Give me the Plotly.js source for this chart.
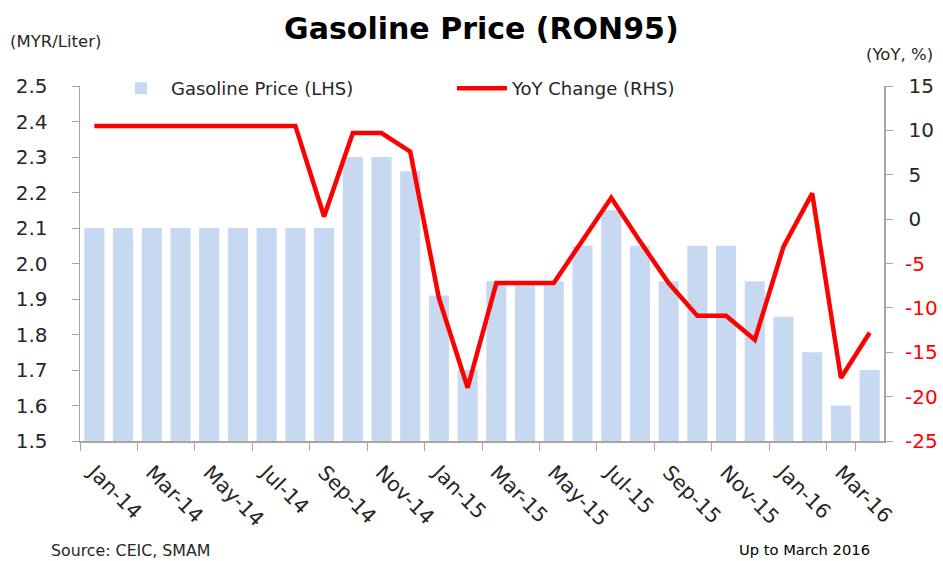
<!DOCTYPE html>
<html>
<head>
<meta charset="utf-8">
<script src="https://cdn.plot.ly/plotly-3.0.1.min.js"></script>
<style>html,body{margin:0;padding:0;background:#fff;}#chart{width:943px;height:561px;}</style>
</head>
<body>
<div id="chart"></div>
<script>
const months = ['Jan-14','Feb-14','Mar-14','Apr-14','May-14','Jun-14','Jul-14','Aug-14','Sep-14','Oct-14','Nov-14','Dec-14',
  'Jan-15','Feb-15','Mar-15','Apr-15','May-15','Jun-15','Jul-15','Aug-15','Sep-15','Oct-15','Nov-15','Dec-15',
  'Jan-16','Feb-16','Mar-16','Apr-16'];
const gasolinePrice = [2.10,2.10,2.10,2.10,2.10,2.10,2.10,2.10,2.10,2.30,2.30,2.26,
  1.91,1.70,1.95,1.95,1.95,2.05,2.15,2.05,1.95,2.05,2.05,1.95,
  1.85,1.75,1.60,1.70];
const yoyChange = [10.5,10.5,10.5,10.5,10.5,10.5,10.5,10.5,0.3,9.7,9.7,7.6,
  -8.9,-19.0,-7.2,-7.2,-7.2,-2.4,2.4,-2.5,-7.2,-10.9,-10.9,-13.6,
  -3.1,2.9,-17.9,-12.8];
const xTickLabels = ['Jan-14','Mar-14','May-14','Jul-14','Sep-14','Nov-14','Jan-15','Mar-15','May-15','Jul-15','Sep-15','Nov-15','Jan-16','Mar-16'];
const leftTickVals = [1.5,1.6,1.7,1.8,1.9,2.0,2.1,2.2,2.3,2.4,2.5];
const rightTickVals = [-25,-20,-15,-10,-5,0,5,10,15];
const rightTickText = ['-25','-20','-15','-10','-5','0','5','10','15'];

const FONT = 'DejaVu Sans, Verdana, sans-serif';
const AXC = '#a6a6a6';
const TXT = '#262626';
const NEG = '#ff0000';

const traces = [
  {
    type: 'bar', name: 'Gasoline Price (LHS)', x: months, y: gasolinePrice,
    marker: {color: '#c6d9f1'}, yaxis: 'y'
  },
  {
    type: 'scatter', mode: 'lines', name: 'YoY Change (RHS)', x: months, y: yoyChange,
    line: {color: '#ff0000', width: 4.5}, yaxis: 'y2'
  }
];

// Right-axis labels: non-negative ones are axis tick labels (black); negative ones are
// placed as red text at the same tick values through the y2 scale.
const rightAxisText = rightTickText.map((t, i) => rightTickVals[i] < 0 ? '' : t);
const negLabelAnnotations = rightTickVals
  .map((v, i) => ({v: v, t: rightTickText[i]}))
  .filter(d => d.v < 0)
  .map(d => ({
    text: d.t, xref: 'paper', yref: 'y2', x: 1.0242, y: d.v, xanchor: 'left', yanchor: 'middle',
    showarrow: false, font: {family: FONT, size: 20, color: NEG}
  }));

const layout = {
  width: 943, height: 561,
  margin: {l: 80, r: 58.5, t: 86.3, b: 120.3},
  paper_bgcolor: '#ffffff', plot_bgcolor: '#ffffff',
  font: {family: FONT, color: TXT, size: 16},
  bargap: 0.3,
  showlegend: true,
  title: {text: '<b>Gasoline Price (RON95)</b>', font: {family: FONT, size: 30, color: '#000000'},
          x: 0.5105, xanchor: 'center', y: 0.95, yanchor: 'middle', yref: 'container'},
  legend: {orientation: 'h', x: 0.0385, y: 1.045, xanchor: 'left', yanchor: 'top',
           font: {family: FONT, size: 18, color: TXT}, bgcolor: 'rgba(0,0,0,0)',
           itemwidth: 50, entrywidth: 276, entrywidthmode: 'pixels', traceorder: 'normal'},
  xaxis: {
    type: 'category', range: [-0.5, 27.5],
    tickmode: 'array', tickvals: xTickLabels, ticktext: xTickLabels,
    tickson: 'boundaries', ticks: 'outside', ticklen: 8, tickcolor: AXC, tickwidth: 1,
    tickangle: 45, tickfont: {family: FONT, size: 20.5, color: TXT}, ticklabelstandoff: 10,
    showline: true, linecolor: AXC, linewidth: 1.5, showgrid: false, zeroline: false
  },
  yaxis: {
    range: [1.5, 2.5], tickmode: 'array', tickvals: leftTickVals, tickformat: '.1f',
    ticks: 'outside', ticklen: 7, tickcolor: AXC, showline: true, linecolor: AXC, linewidth: 1.5,
    showgrid: false, zeroline: false, tickfont: {family: FONT, size: 20, color: TXT},
    ticklabelstandoff: 20
  },
  yaxis2: {
    overlaying: 'y', side: 'right', anchor: 'x', range: [-25, 15], tickmode: 'array',
    tickvals: rightTickVals, ticktext: rightAxisText,
    ticks: 'outside', ticklen: 7, tickcolor: AXC, showline: true, linecolor: AXC, linewidth: 1.5,
    showgrid: false, zeroline: false, ticklabelstandoff: 12,
    tickfont: {family: FONT, size: 20, color: TXT}
  },
  annotations: [
    {text: '(MYR/Liter)', xref: 'paper', yref: 'paper', x: -0.089, y: 1.125, xanchor: 'left', yanchor: 'middle',
     showarrow: false, font: {family: FONT, size: 16.5, color: TXT}},
    {text: '(YoY, %)', xref: 'paper', yref: 'paper', x: 1.0635, y: 1.09, xanchor: 'right', yanchor: 'middle',
     showarrow: false, font: {family: FONT, size: 16.5, color: TXT}},
    {text: 'Source: CEIC, SMAM', xref: 'paper', yref: 'paper', x: -0.039, y: -0.308, xanchor: 'left', yanchor: 'middle',
     showarrow: false, font: {family: FONT, size: 15.8, color: TXT}},
    {text: 'Up to March 2016', xref: 'paper', yref: 'paper', x: 0.985, y: -0.306, xanchor: 'right', yanchor: 'middle',
     showarrow: false, font: {family: FONT, size: 14.7, color: '#000000'}}
  ].concat(negLabelAnnotations)
};

Plotly.newPlot('chart', traces, layout, {displayModeBar: false, staticPlot: true});
</script>
</body>
</html>
